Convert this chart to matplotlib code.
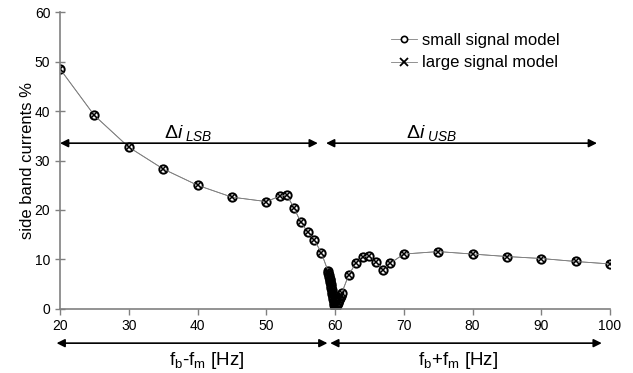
import numpy as np
import matplotlib.pyplot as plt

plt.rcParams['font.family'] = ['Liberation Sans', 'DejaVu Sans']
plt.rcParams['mathtext.fontset'] = 'custom'
plt.rcParams['mathtext.rm'] = 'Liberation Sans'
plt.rcParams['mathtext.it'] = 'Liberation Sans:italic'

# frequency points (Hz) and side band current (%)
freq = [20, 25, 30, 35, 40, 45, 50, 52, 53, 54, 55, 56, 57, 58,
        59.0, 59.05, 59.1, 59.15, 59.2, 59.25, 59.3, 59.35, 59.4, 59.45, 59.5,
        59.55, 59.6, 59.65, 59.7, 59.75, 59.8, 59.85, 59.9, 59.95, 60.0,
        60.1, 60.2, 60.3, 60.4, 60.5, 60.6, 60.7, 60.8, 60.9, 61.0,
        62, 63, 64, 65, 66, 67, 68, 70, 75, 80, 85, 90, 95, 100]
small = [48.5, 39.1, 32.7, 28.3, 25.0, 22.6, 21.7, 22.8, 23.0, 20.5, 17.6, 15.6, 13.9, 11.4,
         7.6, 7.2, 6.9, 6.5, 6.1, 5.8, 5.4, 5.0, 4.6, 4.3, 3.9,
         3.5, 3.1, 2.8, 2.4, 2.0, 1.6, 1.3, 0.9, 0.6, 0.3,
         0.4, 0.6, 0.9, 1.2, 1.5, 1.9, 2.2, 2.6, 2.9, 3.3,
         6.9, 9.2, 10.5, 10.7, 9.4, 7.9, 9.2, 11.1, 11.6, 11.1, 10.6, 10.2, 9.6, 9.1]
large = [48.5, 39.1, 32.7, 28.3, 25.0, 22.6, 21.7, 22.8, 23.0, 20.5, 17.6, 15.6, 13.9, 11.4,
         7.6, 7.2, 6.9, 6.5, 6.1, 5.8, 5.4, 5.0, 4.6, 4.3, 3.9,
         3.5, 3.1, 2.8, 2.4, 2.0, 1.6, 1.3, 0.9, 0.6, 0.3,
         0.4, 0.6, 0.9, 1.2, 1.5, 1.9, 2.2, 2.6, 2.9, 3.3,
         6.9, 9.2, 10.5, 10.7, 9.4, 7.9, 9.2, 11.1, 11.6, 11.1, 10.6, 10.2, 9.6, 9.1]

fig = plt.figure(figsize=(6.33, 3.73), dpi=100)
ax = fig.add_axes([0.0948, 0.1716, 0.8689, 0.7962])

ax.plot(freq, small, color='#808080', lw=0.6, marker='o', ms=6, mfc='white',
        mec='black', mew=1.4, label='small signal model')
ax.plot(freq, large, color='#808080', lw=0.6, marker='x', ms=4.5, mec='black',
        mew=1.1, ls='-', label='large signal model')

ax.set_xlim(20, 100)
ax.set_ylim(0, 60)
ax.set_xticks(range(20, 101, 10))
ax.set_yticks(range(0, 61, 10))
ax.tick_params(labelsize=10, length=4, color='#808080', width=1)
ax.tick_params(axis='y', direction='inout', length=7)
for s in ['top', 'right']:
    ax.spines[s].set_visible(False)
for s in ['left', 'bottom']:
    ax.spines[s].set_color('#808080')
    ax.spines[s].set_linewidth(1.2)
ax.set_ylabel('side band currents %', fontsize=12, labelpad=0)

leg = ax.legend(loc='upper left', bbox_to_anchor=(0.574, 0.98), frameon=False,
                fontsize=12, handlelength=1.6, handletextpad=0.3, labelspacing=0.45)
leg.legend_handles[0].set_markersize(4.5)
leg.legend_handles[0].set_markeredgewidth(1.2)
leg.legend_handles[1].set_markersize(5.5)
leg.legend_handles[1].set_markeredgewidth(1.3)

aprops = dict(arrowstyle='<|-|>', color='black', lw=1.2, mutation_scale=12,
              shrinkA=0, shrinkB=0)
ax.annotate('', xy=(20, 33.5), xytext=(57.5, 33.5), arrowprops=aprops)
ax.annotate('', xy=(58.7, 33.5), xytext=(98.1, 33.5), arrowprops=aprops)
ax.text(38.6, 33.6, r'$\Delta i_{\ LSB}$', fontsize=14, ha='center', va='bottom')
ax.text(74, 33.6, r'$\Delta i_{\ USB}$', fontsize=14, ha='center', va='bottom')

ax.annotate('', xy=(19.5, -0.115), xytext=(58.9, -0.115), xycoords=('data', 'axes fraction'),
            textcoords=('data', 'axes fraction'), arrowprops=aprops, annotation_clip=False)
ax.annotate('', xy=(59.3, -0.115), xytext=(98.8, -0.115), xycoords=('data', 'axes fraction'),
            textcoords=('data', 'axes fraction'), arrowprops=aprops, annotation_clip=False)
ax.text(41.4, -0.175, r'f$_\mathregular{b}$-f$_\mathregular{m}$ [Hz]', fontsize=13.5,
        ha='center', va='center', transform=ax.get_xaxis_transform())
ax.text(77.9, -0.175, r'f$_\mathregular{b}$+f$_\mathregular{m}$ [Hz]', fontsize=13.5,
        ha='center', va='center', transform=ax.get_xaxis_transform())

fig.savefig('out.png', dpi=100)
